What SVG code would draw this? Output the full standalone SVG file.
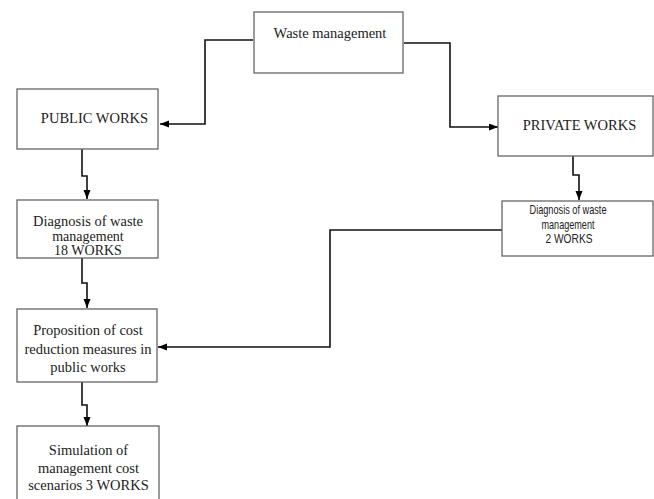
<svg xmlns="http://www.w3.org/2000/svg" width="654" height="499" viewBox="0 0 654 499">
<style>
.box{fill:#fff;stroke:#666;stroke-width:1.3}
.t{font-family:"Liberation Serif","Times New Roman",serif;font-size:14.5px;fill:#222;text-anchor:middle}
.d{font-size:14px}
.s{font-family:"Liberation Sans",Arial,sans-serif;font-size:12.4px;fill:#222;text-anchor:middle}
.c{fill:none;stroke:#111;stroke-width:1.6;marker-end:url(#ah)}
</style>
<defs>
<marker id="ah" markerUnits="userSpaceOnUse" markerWidth="10" markerHeight="8" refX="9" refY="3.5" orient="auto">
<path d="M0,0 L9,3.5 L0,7 z" fill="#000"/>
</marker>
</defs>
<rect width="654" height="499" fill="#fff"/>
<g id="connectors">
<path class="c" d="M253,40 H205 V124 H160"/>
<path class="c" d="M404,43 H450 V127 H498"/>
<path class="c" d="M82,149 V176 H87 V199"/>
<path class="c" d="M82,258 V283 H87 V308"/>
<path class="c" d="M82,382 V405 H87 V426"/>
<path class="c" d="M573,156 V175 H579 V200"/>
<path class="c" d="M502,230 H330 V347 H158"/>
</g>
<g id="waste">
<rect class="box" x="254" y="12" width="149" height="61"/>
<text class="t" x="330" y="38">Waste management</text>
</g>
<g id="public">
<rect class="box" x="17" y="89" width="141" height="60"/>
<text class="t" x="94.5" y="123">PUBLIC WORKS</text>
</g>
<g id="private">
<rect class="box" x="498" y="96" width="155" height="60"/>
<text class="t" x="579.5" y="130">PRIVATE WORKS</text>
</g>
<g id="diag1">
<rect class="box" x="17" y="200" width="141" height="58"/>
<text class="t d" x="88" y="226" textLength="110" lengthAdjust="spacingAndGlyphs">Diagnosis of waste</text>
<text class="t d" x="88" y="240.5">management</text>
<text class="t d" x="88" y="255">18 WORKS</text>
</g>
<g id="diag2">
<rect class="box" x="502" y="201" width="151" height="55"/>
<text class="s" x="568" y="214" textLength="77" lengthAdjust="spacingAndGlyphs">Diagnosis of waste</text>
<text class="s" x="568" y="228.5" textLength="53" lengthAdjust="spacingAndGlyphs">management</text>
<text class="s" x="569" y="243" textLength="47" lengthAdjust="spacingAndGlyphs">2 WORKS</text>
</g>
<g id="proposition">
<rect class="box" x="17" y="309" width="140" height="73"/>
<text class="t" x="88" y="335">Proposition of cost</text>
<text class="t" x="88" y="354">reduction measures in</text>
<text class="t" x="88" y="372">public works</text>
</g>
<g id="simulation">
<rect class="box" x="17" y="426" width="142" height="80"/>
<text class="t" x="88.5" y="455">Simulation of</text>
<text class="t" x="88.5" y="473">management cost</text>
<text class="t" x="88.5" y="490">scenarios 3 WORKS</text>
</g>
</svg>
